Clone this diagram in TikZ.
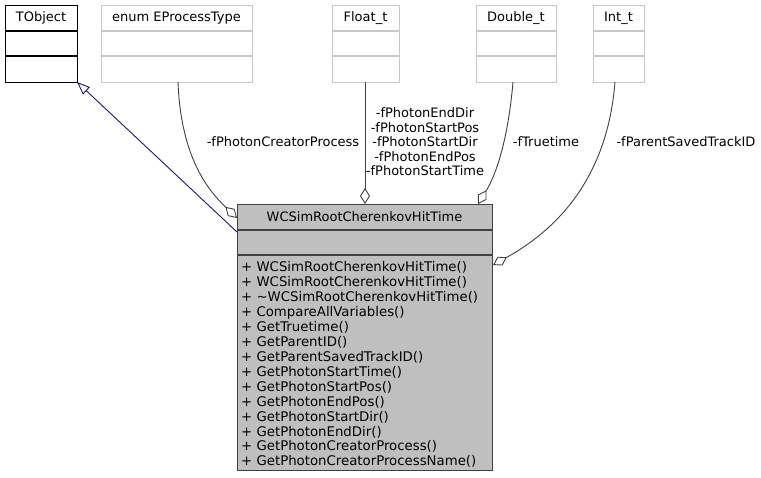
\documentclass[tikz,border=0pt]{standalone}
\usepackage{fontspec}
\setmainfont{DejaVu Sans}
\usetikzlibrary{arrows.meta}
\definecolor{edgegray}{HTML}{404040}
\definecolor{boxgray}{HTML}{BFBFBF}
\definecolor{lightborder}{HTML}{C8C8C8}
\definecolor{navyline}{HTML}{191970}
\begin{document}
\begin{tikzpicture}[x=1pt,y=-1pt,
  txt/.style={font=\fontsize{13}{15}\selectfont, inner sep=0pt},
  cbox/.style={draw=lightborder, line width=1.2pt, anchor=north west, inner sep=0pt},
  tbox/.style={draw=black, line width=1.2pt, anchor=north west, inner sep=0pt},
  mbox/.style={draw=edgegray, fill=boxgray, line width=1.2pt, anchor=north west, inner sep=0pt},
  agg/.style={draw=edgegray, line width=0.9pt, -{Diamond[open, length=16pt, width=10pt, fill=white]}},
  inh/.style={draw=navyline, line width=0.9pt, -{Triangle[open, length=13pt, width=10pt, fill=white]}},
  lbl/.style={font=\fontsize{13}{14.5}\selectfont, inner sep=0pt, align=center}
]
\useasboundingbox (0,0) rectangle (761,477);
% TObject
\node[tbox, minimum width=72pt, minimum height=77pt] (tobj) at (5,5) {};
\node[txt] (tobjt) at (41,18) {TObject};
\draw[line width=1.2pt] (5,31) -- (77,31) (5,56) -- (77,56);
% enum EProcessType
\node[cbox, minimum width=151pt, minimum height=77pt] (enumb) at (101,5) {};
\node[txt] (enumt) at (176.5,18) {enum EProcessType};
\draw[lightborder, line width=1.2pt] (101,31) -- (252,31) (101,56) -- (252,56);
% Float_t
\node[cbox, minimum width=67pt, minimum height=77pt] (floatb) at (332,5) {};
\node[txt] (floatt) at (365.5,18) {Float\_t};
\draw[lightborder, line width=1.2pt] (332,31) -- (399,31) (332,56) -- (399,56);
% Double_t
\node[cbox, minimum width=80pt, minimum height=77pt] (doubleb) at (476,5) {};
\node[txt] (doublet) at (516,18) {Double\_t};
\draw[lightborder, line width=1.2pt] (476,31) -- (556,31) (476,56) -- (556,56);
% Int_t
\node[cbox, minimum width=51pt, minimum height=77pt] (intb) at (593,5) {};
\node[txt] (intt) at (618.5,18) {Int\_t};
\draw[lightborder, line width=1.2pt] (593,31) -- (644,31) (593,56) -- (644,56);
% main class
\node[mbox, minimum width=255pt, minimum height=266pt] (main) at (237,204) {};
\node[txt] (maint) at (364.5,217) {WCSimRootCherenkovHitTime};
\draw[edgegray, line width=1.2pt] (237,230) -- (492,230) (237,255) -- (492,255);
\node[font=\fontsize{13.3}{14.93}\selectfont, inner sep=0pt, align=left, anchor=north west] (methods) at (241,261.5) {%
+ WCSimRootCherenkovHitTime()\\
+ WCSimRootCherenkovHitTime()\\
+ \textasciitilde WCSimRootCherenkovHitTime()\\
+ CompareAllVariables()\\
+ GetTruetime()\\
+ GetParentID()\\
+ GetParentSavedTrackID()\\
+ GetPhotonStartTime()\\
+ GetPhotonStartPos()\\
+ GetPhotonEndPos()\\
+ GetPhotonStartDir()\\
+ GetPhotonEndDir()\\
+ GetPhotonCreatorProcess()\\
+ GetPhotonCreatorProcessName()};
% connectors
\coordinate (mainL) at (237,232);
\coordinate (tobjC) at (77,82);
\draw[inh] (mainL) -- (tobjC);
\coordinate (enumS) at (178,82);
\coordinate (mainE) at (237,218);
\draw[agg] (enumS) .. controls (181,160) and (210,192) .. (mainE);
\node[lbl] (l1) at (283,142) {-fPhotonCreatorProcess};
\coordinate (floatS) at (365,82);
\coordinate (mainF) at (365,204);
\draw[agg] (floatS) -- (mainF);
\node[lbl] (l2) at (425,142) {-fPhotonEndDir\\-fPhotonStartPos\\-fPhotonStartDir\\-fPhotonEndPos\\-fPhotonStartTime};
\coordinate (doubleS) at (513,82);
\coordinate (mainD) at (478,204);
\draw[agg] (doubleS) .. controls (508,140) and (496,175) .. (mainD);
\node[lbl] (l3) at (546,142) {-fTruetime};
\coordinate (intS) at (615,82);
\coordinate (mainI) at (493,265);
\draw[agg] (intS) .. controls (608,170) and (565,225) .. (mainI);
\node[lbl] (l4) at (686,142) {-fParentSavedTrackID};
\end{tikzpicture}
\end{document}
